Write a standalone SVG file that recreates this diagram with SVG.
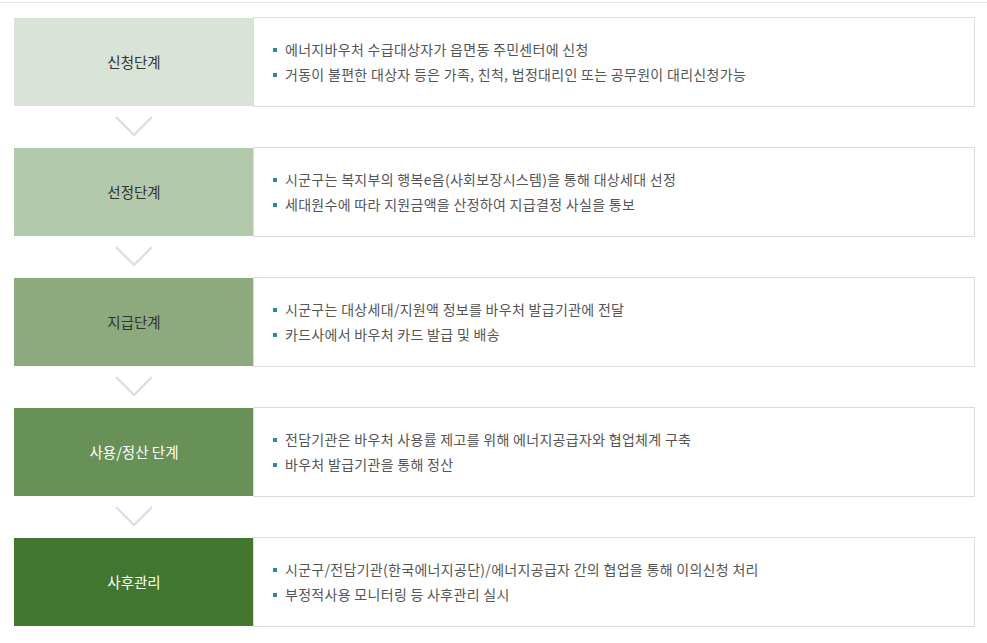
<svg xmlns="http://www.w3.org/2000/svg" width="987" height="643" viewBox="0 0 987 643">
<style>
.lbl{font-family:"Noto Sans CJK KR","Noto Sans",sans-serif;font-size:14.5px;text-anchor:middle;dominant-baseline:central}
.dk{fill:#333}
.wh{fill:#fff}
.txt{font-family:"Noto Sans CJK KR","Noto Sans",sans-serif;font-size:14px;letter-spacing:0.3px;fill:#555}
.card{fill:#fff;stroke:#dcdcdc;stroke-width:1}
.bul{fill:#2a8aa0}
.chev{fill:none;stroke:#dcdcdc;stroke-width:2}
</style>
<rect width="987" height="643" fill="#fff"/>
<line x1="0" y1="2.5" x2="987" y2="2.5" stroke="#e5e5e5" stroke-width="1"/>
<g id="step1">
<rect class="card" x="253.5" y="17.5" width="721" height="89"/>
<rect x="14" y="18" width="239" height="88" fill="#dae3d8"/>
<text class="lbl dk" x="134" y="61">신청단계</text>
<rect class="bul" x="273" y="48" width="4" height="4"/>
<text class="txt" x="285" y="55">에너지바우처 수급대상자가 읍면동 주민센터에 신청</text>
<rect class="bul" x="273" y="73" width="4" height="4"/>
<text class="txt" x="285" y="80">거동이 불편한 대상자 등은 가족, 친척, 법정대리인 또는 공무원이 대리신청가능</text>
</g>
<g id="step2">
<rect class="card" x="253.5" y="147.5" width="721" height="89"/>
<rect x="14" y="148" width="239" height="88" fill="#b3c9ab"/>
<text class="lbl dk" x="134" y="191">선정단계</text>
<rect class="bul" x="273" y="178" width="4" height="4"/>
<text class="txt" x="285" y="185">시군구는 복지부의 행복e음(사회보장시스템)을 통해 대상세대 선정</text>
<rect class="bul" x="273" y="203" width="4" height="4"/>
<text class="txt" x="285" y="210">세대원수에 따라 지원금액을 산정하여 지급결정 사실을 통보</text>
</g>
<g id="step3">
<rect class="card" x="253.5" y="277.5" width="721" height="89"/>
<rect x="14" y="278" width="239" height="88" fill="#8caa7e"/>
<text class="lbl dk" x="134" y="321">지급단계</text>
<rect class="bul" x="273" y="308" width="4" height="4"/>
<text class="txt" x="285" y="315">시군구는 대상세대/지원액 정보를 바우처 발급기관에 전달</text>
<rect class="bul" x="273" y="333" width="4" height="4"/>
<text class="txt" x="285" y="340">카드사에서 바우처 카드 발급 및 배송</text>
</g>
<g id="step4">
<rect class="card" x="253.5" y="407.5" width="721" height="89"/>
<rect x="14" y="408" width="239" height="88" fill="#679157"/>
<text class="lbl wh" x="134" y="451">사용/정산 단계</text>
<rect class="bul" x="273" y="438" width="4" height="4"/>
<text class="txt" x="285" y="445">전담기관은 바우처 사용률 제고를 위해 에너지공급자와 협업체계 구축</text>
<rect class="bul" x="273" y="463" width="4" height="4"/>
<text class="txt" x="285" y="470">바우처 발급기관을 통해 정산</text>
</g>
<g id="step5">
<rect class="card" x="253.5" y="537.5" width="721" height="89"/>
<rect x="14" y="538" width="239" height="88" fill="#42762f"/>
<text class="lbl wh" x="134" y="581">사후관리</text>
<rect class="bul" x="273" y="568" width="4" height="4"/>
<text class="txt" x="285" y="575">시군구/전담기관(한국에너지공단)/에너지공급자 간의 협업을 통해 이의신청 처리</text>
<rect class="bul" x="273" y="593" width="4" height="4"/>
<text class="txt" x="285" y="600">부정적사용 모니터링 등 사후관리 실시</text>
</g>
<g id="connectors">
<polyline class="chev" points="116,117 134,135 152,117"/>
<polyline class="chev" points="116,247 134,265 152,247"/>
<polyline class="chev" points="116,377 134,395 152,377"/>
<polyline class="chev" points="116,507 134,525 152,507"/>
</g>
</svg>
